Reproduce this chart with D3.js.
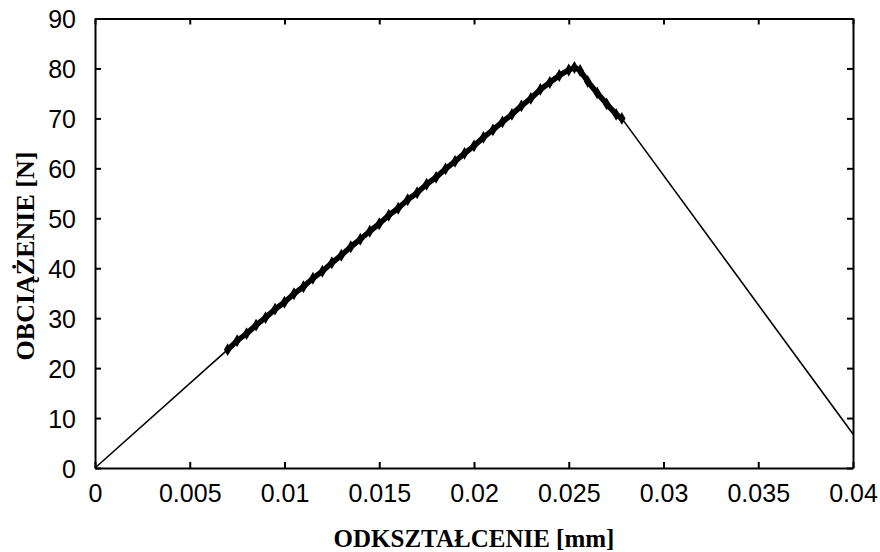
<!DOCTYPE html>
<html>
<head>
<meta charset="utf-8">
<script src="https://cdn.jsdelivr.net/npm/d3@7"></script>
<style>
  html, body { margin: 0; padding: 0; background: #fff; }
  svg { display: block; }
</style>
</head>
<body>
<div id="chart"></div>
<script>
// measured data (deformation in mm, load in N)
const deformation = [
  0.0070, 0.0075, 0.0080, 0.0085, 0.0090, 0.0095, 0.0100, 0.0105, 0.0110, 0.0115,
  0.0120, 0.0125, 0.0130, 0.0135, 0.0140, 0.0145, 0.0150, 0.0155, 0.0160, 0.0165,
  0.0170, 0.0175, 0.0180, 0.0185, 0.0190, 0.0195, 0.0200, 0.0205, 0.0210, 0.0215,
  0.0220, 0.0225, 0.0230, 0.0235, 0.0240, 0.0245, 0.0250, 0.0253, 0.0256, 0.0260,
  0.0265, 0.0270, 0.0275, 0.0278
];
const load = [
  23.7, 25.5, 26.9, 28.6, 30.1, 31.8, 33.2, 34.9, 36.3, 38.0,
  39.4, 41.1, 42.6, 44.3, 45.8, 47.4, 48.9, 50.6, 52.0, 53.7,
  55.1, 56.8, 58.2, 59.9, 61.4, 63.0, 64.5, 66.2, 67.7, 69.3,
  70.8, 72.5, 74.0, 75.8, 77.2, 78.6, 79.7, 80.2, 79.6, 77.4,
  75.1, 72.9, 70.8, 70.0
];
// straight thin segments before and after the recorded part
const leadX = [0, 0.0070];
const leadY = [0, 23.7];
const tailX = [0.0278, 0.04];
const tailY = [70.0, 6.8];

const xTicks = [0, 0.005, 0.01, 0.015, 0.02, 0.025, 0.03, 0.035, 0.04];
const xTickLabels = ["0", "0.005", "0.01", "0.015", "0.02", "0.025", "0.03", "0.035", "0.04"];
const yTicks = [0, 10, 20, 30, 40, 50, 60, 70, 80, 90];

const xTitle = "ODKSZTAŁCENIE [mm]";
const yTitle = "OBCIĄŻENIE [N]";

const width = 880, height = 552;
const margin = { top: 18.5, right: 27, bottom: 84, left: 95 };
const innerW = width - margin.left - margin.right;
const innerH = height - margin.top - margin.bottom;

const svg = d3.select("#chart").append("svg")
  .attr("width", width)
  .attr("height", height);

const g = svg.append("g")
  .attr("transform", `translate(${margin.left},${margin.top})`);

const x = d3.scaleLinear().domain([0, 0.04]).range([0, innerW]);
const y = d3.scaleLinear().domain([0, 90]).range([innerH, 0]);

const tickFont = "'Liberation Sans', Arial, sans-serif";
const titleFont = "'Liberation Serif', 'Times New Roman', serif";

// axes with inward ticks, mirrored on top and right
const axisBottom = d3.axisBottom(x).tickValues(xTicks)
  .tickFormat((d, i) => xTickLabels[i]).tickSizeInner(-6).tickSizeOuter(0).tickPadding(16);
const axisTop = d3.axisTop(x).tickValues(xTicks).tickFormat("").tickSizeInner(-6).tickSizeOuter(0);
const axisLeft = d3.axisLeft(y).tickValues(yTicks).tickSizeInner(-6).tickSizeOuter(0).tickPadding(19);
const axisRight = d3.axisRight(y).tickValues(yTicks).tickFormat("").tickSizeInner(-6).tickSizeOuter(0);

const gx = g.append("g").attr("transform", `translate(0,${innerH})`).call(axisBottom);
const gxt = g.append("g").call(axisTop);
const gy = g.append("g").call(axisLeft);
const gyr = g.append("g").attr("transform", `translate(${innerW},0)`).call(axisRight);

[gx, gxt, gy, gyr].forEach(a => {
  a.selectAll(".domain").attr("stroke", "#000").attr("stroke-width", 2);
  a.selectAll(".tick line").attr("stroke", "#000").attr("stroke-width", 2);
  a.selectAll(".tick text")
    .attr("fill", "#000")
    .style("font-family", tickFont)
    .style("font-size", "25px");
});
gx.selectAll(".tick text").attr("dy", "0.71em");
gy.selectAll(".tick text").attr("dy", "0.36em");

const line = d3.line().x(d => x(d[0])).y(d => y(d[1]));

// thin segments
g.append("path")
  .datum(d3.zip(leadX, leadY))
  .attr("fill", "none").attr("stroke", "#000").attr("stroke-width", 1.6)
  .attr("d", line);
g.append("path")
  .datum(d3.zip(tailX, tailY))
  .attr("fill", "none").attr("stroke", "#000").attr("stroke-width", 1.6)
  .attr("d", line);

// dense recorded part: thick line plus small markers for the jagged look
const pts = d3.zip(deformation, load);
g.append("path")
  .datum(pts)
  .attr("fill", "none").attr("stroke", "#000").attr("stroke-width", 5.5)
  .attr("stroke-linejoin", "round").attr("stroke-linecap", "round")
  .attr("d", line);
g.selectAll("path.mark")
  .data(pts)
  .join("path")
  .attr("class", "mark")
  .attr("transform", d => `translate(${x(d[0])},${y(d[1])})`)
  .attr("d", d3.symbol(d3.symbolDiamond, 48))
  .attr("fill", "#000");

// axis titles
svg.append("text")
  .attr("x", margin.left + innerW / 2)
  .attr("y", 547)
  .attr("text-anchor", "middle")
  .style("font-family", titleFont)
  .style("font-weight", "bold")
  .style("font-size", "25px")
  .text(xTitle);

svg.append("text")
  .attr("transform", `translate(34,256) rotate(-90)`)
  .attr("text-anchor", "middle")
  .style("font-family", titleFont)
  .style("font-weight", "bold")
  .style("font-size", "26px")
  .text(yTitle);
</script>
</body>
</html>
